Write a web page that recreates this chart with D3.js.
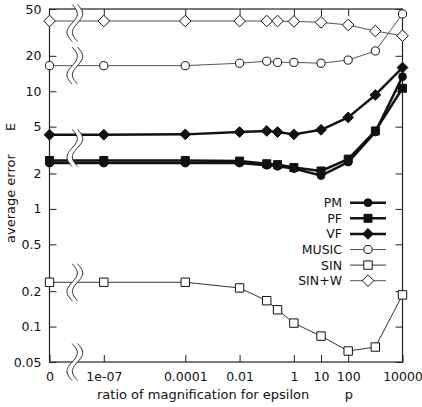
<!DOCTYPE html>
<html>
<head>
<meta charset="utf-8">
<script src="https://cdn.jsdelivr.net/npm/d3@7"></script>
<style>
  html, body { margin: 0; padding: 0; background: #fff; }
  svg { display: block; font-family: "DejaVu Sans", sans-serif; }
</style>
</head>
<body>
<svg id="chart" width="422" height="407"></svg>
<script>
// ratio of magnification for epsilon (0 is drawn at the far left of the log axis)
const epsilon = [0, 1e-7, 1e-4, 1e-2, 1e-1, 0.25, 1, 10, 100, 1000, 10000];

// average error E per method
const pmErr    = [2.45, 2.45, 2.45, 2.45, 2.35, 2.30, 2.20, 1.92, 2.50, 4.50, 13.3];
const pfErr    = [2.58, 2.58, 2.58, 2.55, 2.42, 2.38, 2.25, 2.10, 2.65, 4.60, 10.6];
const vfErr    = [4.27, 4.27, 4.30, 4.50, 4.60, 4.50, 4.30, 4.70, 6.00, 9.30, 15.9];
const musicErr = [16.5, 16.5, 16.5, 17.3, 18.0, 17.6, 17.6, 17.3, 18.4, 22.0, 45.4];
const sinErr   = [0.238, 0.238, 0.238, 0.213, 0.166, 0.139, 0.107, 0.083, 0.062, 0.067, 0.186];
const sinwErr  = [39.5, 39.5, 39.5, 39.5, 39.5, 39.5, 39.2, 38.5, 36.6, 32.5, 29.6];

const seriesNames = ["PM", "PF", "VF", "MUSIC", "SIN", "SIN+W"];

// axis ticks
const xTickValues = [0, 1e-7, 1e-4, 1e-2, 1, 10, 100, 10000];
const xTickLabels = ["0", "1e-07", "0.0001", "0.01", "1", "10", "100", "10000"];
const xTopTicks   = [1e-7, 1e-4, 1e-2, 1, 10, 100];
const yTickValues = [0.05, 0.1, 0.2, 0.5, 1, 2, 5, 10, 20, 50];
const yTickLabels = ["0.05", "0.1", "0.2", "0.5", "1", "2", "5", "10", "20", "50"];

// levels (in error units) where the axis-break marks sit between 0 and 1e-07
const breakLevels = [38, 16.5, 3.3, 0.238, 0.05];

const svg = d3.select("#chart");
const plotLeft = 49.5, plotRight = 402.5, plotTop = 9, plotBottom = 362;
const ZERO_AT = 1e-9;

const x = d3.scaleLog().domain([ZERO_AT, 1e4]).range([plotLeft, plotRight]);
const y = d3.scaleLog().domain([0.05, 50]).range([plotBottom, plotTop]);
const xp = v => x(v === 0 ? ZERO_AT : v);

const styles = {
  "PM":    { values: pmErr,    width: 2.5, color: "#111", marker: "circle",  fill: "#111" },
  "PF":    { values: pfErr,    width: 2.5, color: "#111", marker: "square",  fill: "#111" },
  "VF":    { values: vfErr,    width: 2.5, color: "#111", marker: "diamond", fill: "#111" },
  "MUSIC": { values: musicErr, width: 1,   color: "#555", marker: "circle",  fill: "#fff" },
  "SIN":   { values: sinErr,   width: 1,   color: "#333", marker: "square",  fill: "#fff" },
  "SIN+W": { values: sinwErr,  width: 1,   color: "#555", marker: "diamond", fill: "#fff" }
};

function markerPath(kind, filled) {
  if (kind === "circle") {
    const r = filled ? 3.9 : 4.1;
    return `M${-r},0A${r},${r} 0 1,0 ${r},0A${r},${r} 0 1,0 ${-r},0Z`;
  }
  if (kind === "square") {
    const h = filled ? 4 : 4.2;
    return `M${-h},${-h}H${h}V${h}H${-h}Z`;
  }
  const r = filled ? 5.4 : 5.8;
  return `M0,${-r}L${r},0L0,${r}L${-r},0Z`;
}

const tickFont = 12.5, titleFont = 13;

// tick marks (inward) on all four sides
const bottomAxis = d3.axisBottom(x)
  .tickValues(xTickValues.map(v => v === 0 ? ZERO_AT : v))
  .tickFormat((d, i) => xTickLabels[i])
  .tickSizeInner(-7).tickSizeOuter(0).tickPadding(10);
const topAxis = d3.axisTop(x).tickValues(xTopTicks).tickFormat("")
  .tickSizeInner(-7).tickSizeOuter(0);
const leftAxis = d3.axisLeft(y).tickValues(yTickValues)
  .tickFormat((d, i) => yTickLabels[i])
  .tickSizeInner(-7).tickSizeOuter(0).tickPadding(8);
const rightAxis = d3.axisRight(y).tickValues(yTickValues).tickFormat("")
  .tickSizeInner(-7).tickSizeOuter(0);

function styleAxis(g) {
  g.select(".domain").remove();
  g.selectAll(".tick line").attr("stroke", "#222").attr("stroke-width", 1);
  g.selectAll(".tick text").attr("fill", "#111")
    .attr("font-size", tickFont).attr("font-family", "DejaVu Sans, sans-serif");
}

svg.append("g").attr("transform", `translate(0,${plotBottom})`).call(bottomAxis).call(styleAxis);
svg.append("g").attr("transform", `translate(0,${plotTop})`).call(topAxis).call(styleAxis);
svg.append("g").attr("transform", `translate(${plotLeft},0)`).call(leftAxis).call(styleAxis);
svg.append("g").attr("transform", `translate(${plotRight},0)`).call(rightAxis).call(styleAxis);

// frame
svg.append("rect")
  .attr("x", plotLeft).attr("y", plotTop)
  .attr("width", plotRight - plotLeft).attr("height", plotBottom - plotTop)
  .attr("fill", "none").attr("stroke", "#222").attr("stroke-width", 1.2);

// series lines and markers
const line = d3.line().x(d => xp(d.e)).y(d => y(d.v));
const plot = svg.append("g");
seriesNames.forEach(name => {
  const s = styles[name];
  const pts = epsilon.map((e, i) => ({ e, v: s.values[i] }));
  plot.append("path")
    .datum(pts)
    .attr("d", line)
    .attr("fill", "none")
    .attr("stroke", s.color)
    .attr("stroke-width", s.width)
    .attr("stroke-linejoin", "round");
});
seriesNames.forEach(name => {
  const s = styles[name];
  const filled = s.fill !== "#fff";
  plot.selectAll(null)
    .data(epsilon.map((e, i) => ({ e, v: s.values[i] })))
    .join("path")
    .attr("transform", d => `translate(${xp(d.e)},${y(d.v)})`)
    .attr("d", markerPath(s.marker, filled))
    .attr("fill", s.fill)
    .attr("stroke", "#111")
    .attr("stroke-width", 1);
});

// axis-break marks: two parallel S-curves with a white gap between them
const breakX = x(1e-8) - 1.8;
const halfH = 18.5, amp = 5.2, gap = 2.7;
function sCurve(cx, cy) {
  const pts = [];
  for (let t = -1; t <= 1.0001; t += 0.05) {
    pts.push([cx - amp * Math.sin(Math.PI * t), cy + t * halfH]);
  }
  return pts;
}
const breaks = svg.append("g");
breakLevels.forEach(level => {
  const cy = y(level);
  const a = sCurve(breakX - gap, cy);
  const b = sCurve(breakX + gap, cy);
  breaks.append("path")
    .attr("d", d3.line()(a.concat(b.slice().reverse())) + "Z")
    .attr("fill", "#fff").attr("stroke", "none");
  [a, b].forEach(p => breaks.append("path")
    .attr("d", d3.line().curve(d3.curveBasis)(p))
    .attr("fill", "none").attr("stroke", "#222").attr("stroke-width", 1));
});

// legend
const legend = svg.append("g");
const legY0 = 202.7, legStep = 15.6;
const legTextX = 342, legLineX1 = 350, legLineX2 = 386, legMarkX = 368;
seriesNames.forEach((name, i) => {
  const s = styles[name];
  const ly = legY0 + i * legStep;
  const filled = s.fill !== "#fff";
  legend.append("text")
    .attr("x", legTextX).attr("y", ly).attr("dy", "0.36em")
    .attr("text-anchor", "end").attr("font-size", tickFont).attr("fill", "#111")
    .text(name);
  legend.append("line")
    .attr("x1", legLineX1).attr("x2", legLineX2)
    .attr("y1", ly).attr("y2", ly)
    .attr("stroke", s.color).attr("stroke-width", s.width);
  legend.append("path")
    .attr("transform", `translate(${legMarkX},${ly})`)
    .attr("d", markerPath(s.marker, filled))
    .attr("fill", s.fill).attr("stroke", "#111").attr("stroke-width", 1);
});

// axis titles
svg.append("text")
  .attr("x", 97).attr("y", 399)
  .attr("font-size", titleFont).attr("fill", "#111")
  .text("ratio of magnification for epsilon");
svg.append("text")
  .attr("x", 349).attr("y", 399).attr("text-anchor", "middle")
  .attr("font-size", titleFont).attr("fill", "#111")
  .text("p");
svg.append("text")
  .attr("transform", "translate(15,243) rotate(-90)")
  .attr("font-size", titleFont).attr("fill", "#111")
  .text("average error");
svg.append("text")
  .attr("transform", "translate(15,127) rotate(-90)")
  .attr("text-anchor", "middle")
  .attr("font-size", titleFont).attr("fill", "#111")
  .text("E");
</script>
</body>
</html>
